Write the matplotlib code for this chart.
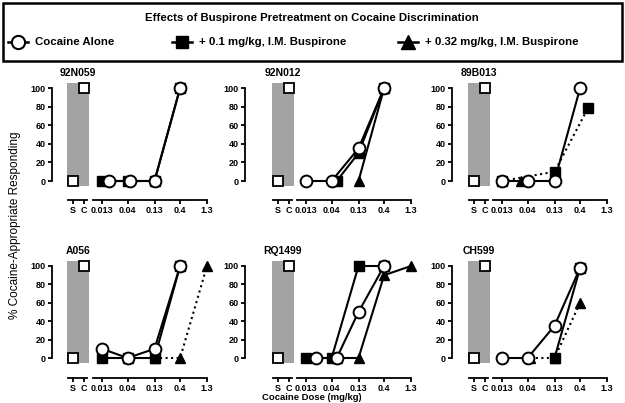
import numpy as np
import matplotlib
matplotlib.use("Agg")
import matplotlib.pyplot as plt
from matplotlib.patches import Rectangle
from matplotlib.lines import Line2D

plt.rcParams['font.family'] = ['Liberation Sans', 'DejaVu Sans']

subjects = ["92N059", "92N012", "89B013", "A056", "RQ1499", "CH599"]
dose_ticks = [0.013, 0.04, 0.13, 0.4, 1.3]
dose_tick_labels = ["0.013", "0.04", "0.13", "0.4", "1.3"]
sc_labels = ["S", "C"]
sc_values = [0, 100]  # saline / cocaine training dose, same in every monkey
legend_labels = ["Cocaine Alone", "+ 0.1 mg/kg, I.M. Buspirone",
                 "+ 0.32 mg/kg, I.M. Buspirone"]

# cocaine alone
alone_dose = {
    "92N059": [0.018, 0.045, 0.13, 0.4],
    "92N012": [0.013, 0.04, 0.13, 0.4],
    "89B013": [0.013, 0.04, 0.13, 0.4],
    "A056":   [0.013, 0.04, 0.13, 0.4],
    "RQ1499": [0.02, 0.05, 0.13, 0.4],
    "CH599":  [0.013, 0.04, 0.13, 0.4],
}
alone_resp = {
    "92N059": [0, 0, 0, 100],
    "92N012": [0, 0, 35, 100],
    "89B013": [0, 0, 0, 100],
    "A056":   [10, 0, 10, 100],
    "RQ1499": [0, 0, 50, 100],
    "CH599":  [0, 0, 35, 98],
}

# + 0.1 mg/kg buspirone
busp01_dose = {
    "92N059": [0.013, 0.04, 0.13, 0.4],
    "92N012": [0.05, 0.13, 0.4],
    "89B013": [0.013, 0.13, 0.56],
    "A056":   [0.013, 0.04, 0.13, 0.4],
    "RQ1499": [0.013, 0.04, 0.13, 0.4],
    "CH599":  [0.13, 0.4],
}
busp01_resp = {
    "92N059": [0, 0, 0, 100],
    "92N012": [0, 30, 100],
    "89B013": [0, 10, 78],
    "A056":   [0, 0, 0, 100],
    "RQ1499": [0, 0, 100, 100],
    "CH599":  [0, 98],
}
busp01_style = {"89B013": ":"}

# + 0.32 mg/kg buspirone
busp032_dose = {
    "92N059": [],
    "92N012": [0.13, 0.4],
    "89B013": [0.03],
    "A056":   [0.13, 0.4, 1.3],
    "RQ1499": [0.05, 0.13, 0.4, 1.3],
    "CH599":  [0.045, 0.13, 0.4],
}
busp032_resp = {
    "92N059": [],
    "92N012": [0, 100],
    "89B013": [0],
    "A056":   [0, 0, 100],
    "RQ1499": [0, 0, 90, 100],
    "CH599":  [0, 0, 60],
}
busp032_style = {"A056": ":", "CH599": ":", "89B013": ":"}

W, H = 625, 403
fig = plt.figure(figsize=(W / 100, H / 100), dpi=100)


def box(x0, y0, x1, y1):
    return [x0 / W, 1 - y1 / H, (x1 - x0) / W, (y1 - y0) / H]


col_bar_left = [67, 272, 468]
col_spine = [52, 245, 452]
col_d13 = [102, 306, 502]
row_y100 = [88, 266]
row_y0 = [181, 358]
row_xaxis = [200, 378]
ppd = 52.5  # px per decade on dose axis
PT = 0.72   # points per pixel
grey = "#a3a3a3"
tick_font = dict(fontsize=6.5, fontweight="bold")
LW = 1.5

for i, subj in enumerate(subjects):
    r, c = divmod(i, 3)
    ppu = (row_y0[r] - row_y100[r]) / 100
    top = row_y100[r] - 5 * ppu
    bot = row_y0[r] + 5 * ppu
    L = col_bar_left[c]

    # S / C part with grey bar
    ax_sc = fig.add_axes(box(L, top, L + 22, bot))
    ax_sc.set_xlim(-0.5, 1.5)
    ax_sc.set_ylim(-5, 105)
    ax_sc.axvspan(-0.5, 1.5, color=grey, lw=0, zorder=0)
    ax_sc.plot([0, 1], sc_values, "s", mfc="white", mec="black", ms=7.5,
               mew=1.3, clip_on=False, zorder=5)
    for s in ["top", "right"]:
        ax_sc.spines[s].set_visible(False)
    ax_sc.spines["left"].set_position(("outward", (L - col_spine[c]) * PT))
    ax_sc.spines["left"].set_bounds(0, 100)
    ax_sc.spines["bottom"].set_position(("outward", (row_xaxis[r] - bot) * PT))
    ax_sc.spines["bottom"].set_bounds(-0.45, 1.3)
    for s in ["left", "bottom"]:
        ax_sc.spines[s].set_linewidth(1.3)
    ax_sc.set_yticks([0, 20, 40, 60, 80, 100])
    ax_sc.set_yticklabels(["0", "20", "40", "60", "80", "100"], **tick_font)
    ax_sc.set_xticks([0, 1])
    ax_sc.set_xticklabels(sc_labels, **tick_font)
    ax_sc.tick_params(length=3, width=1.3, pad=1.5)
    ax_sc.set_title(subj, fontsize=7.5, fontweight="bold", pad=5)

    # dose part
    d13 = col_d13[c]
    x0 = d13 + ppd * np.log10(0.0075 / 0.013)
    x1 = d13 + ppd * np.log10(1.45 / 0.013)
    ax = fig.add_axes(box(x0, top, x1, bot))
    ax.patch.set_alpha(0)
    ax.set_xscale("log")
    ax.set_xlim(0.0075, 1.45)
    ax.set_ylim(-5, 105)
    for s in ["top", "right", "left"]:
        ax.spines[s].set_visible(False)
    ax.spines["bottom"].set_position(("outward", (row_xaxis[r] - bot) * PT))
    ax.spines["bottom"].set_bounds(0.0088, 1.3)
    ax.spines["bottom"].set_linewidth(1.3)
    ax.set_yticks([])
    ax.set_xticks(dose_ticks)
    ax.set_xticklabels(dose_tick_labels, **tick_font)
    ax.xaxis.set_minor_locator(matplotlib.ticker.NullLocator())
    ax.tick_params(length=3, width=1.3, pad=1.5)

    if busp032_dose[subj]:
        ax.plot(busp032_dose[subj], busp032_resp[subj],
                ls=busp032_style.get(subj, "-"), color="black", lw=LW,
                marker="^", ms=7.5, mfc="black", mec="black",
                clip_on=False, zorder=3)
    ax.plot(busp01_dose[subj], busp01_resp[subj],
            ls=busp01_style.get(subj, "-"), color="black", lw=LW,
            marker="s", ms=7, mfc="black", mec="black",
            clip_on=False, zorder=4)
    ax.plot(alone_dose[subj], alone_resp[subj], "-", color="black", lw=LW,
            marker="o", ms=8.5, mfc="white", mec="black", mew=1.4,
            clip_on=False, zorder=5)

fig.text(15 / W, 1 - 225 / H, "% Cocaine-Appropriate Responding",
         rotation=90, ha="center", va="center", fontsize=8.5)
fig.text(312 / W, 1 - 397 / H, "Cocaine Dose (mg/kg)", ha="center",
         va="center", fontsize=6.8, fontweight="bold")

# legend box
fig.add_artist(Rectangle((3 / W, 1 - 61 / H), 619 / W, 58 / H, fill=False,
                         lw=1.8, ec="black", transform=fig.transFigure))
fig.text(312 / W, 1 - 18 / H,
         "Effects of Buspirone Pretreatment on Cocaine Discrimination",
         ha="center", va="center", fontsize=8.2, fontweight="bold")
leg_y = 1 - 42 / H
leg_x = [18, 182, 408]
leg_mk = [dict(marker="o", ms=9.5, mfc="white", mec="black", mew=1.5),
          dict(marker="s", ms=9, mfc="black", mec="black"),
          dict(marker="^", ms=10, mfc="black", mec="black")]
for xc, lab, mk in zip(leg_x, legend_labels, leg_mk):
    fig.add_artist(Line2D([(xc - 10) / W, xc / W, (xc + 10) / W],
                          [leg_y] * 3, color="black", lw=1.8,
                          markevery=[1], transform=fig.transFigure, **mk))
    fig.text((xc + 17) / W, leg_y, lab, ha="left", va="center",
             fontsize=8.2, fontweight="bold")

fig.savefig("out.png", dpi=100)
